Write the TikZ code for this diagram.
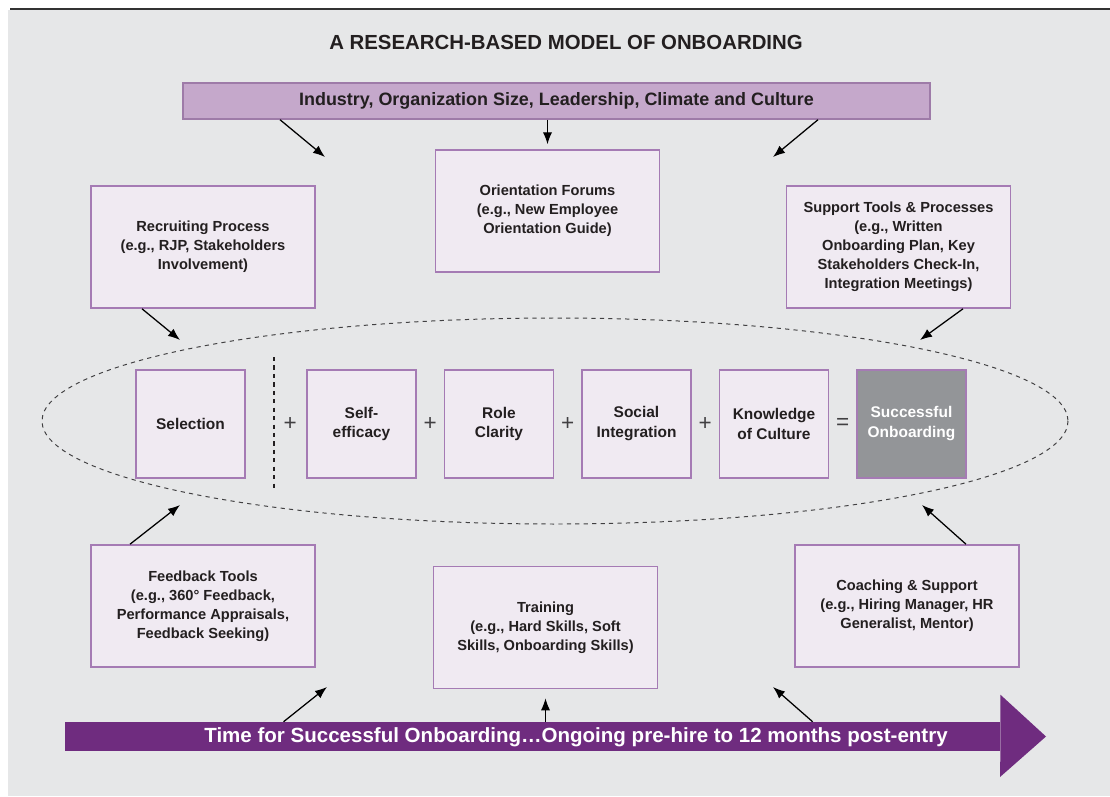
\documentclass[tikz,border=0pt]{standalone}
\usepackage{fontspec}
\setmainfont{Liberation Sans}
\usepackage{tikz}
\usetikzlibrary{positioning, arrows.meta, calc}
\definecolor{bggray}{HTML}{E6E7E8}
\definecolor{boxfill}{HTML}{F0EAF2}
\definecolor{boxedge}{HTML}{A57BB4}
\definecolor{barfill}{HTML}{C5A8CB}
\definecolor{baredge}{HTML}{9E7BA8}
\definecolor{tlpurple}{HTML}{6F2C7F}
\definecolor{sucgray}{HTML}{939598}
\definecolor{ink}{HTML}{231F20}
\definecolor{opgray}{HTML}{414042}
\tikzset{
  box/.style ={draw=boxedge, fill=boxfill, line width=1.1pt, minimum width=5.6cm,
               minimum height=3.05cm, align=center, text=ink,
               font=\bfseries\fontsize{10.4}{13.5}\selectfont},
  term/.style={box, minimum width=2.725cm, minimum height=2.7cm,
               font=\bfseries\fontsize{11}{14.2}\selectfont},
  op/.style  ={text=opgray, font=\fontsize{16}{16}\selectfont},
  line/.style={line width=0.9pt, -{Latex[length=3mm, width=2.3mm]}}
}

\begin{document}
\begin{tikzpicture}[x=0.025cm, y=-0.025cm]
  \useasboundingbox (0,0) rectangle (1110,796);
  \fill[white] (0,0) rectangle (1110,796);
  \fill[bggray] (8,10) rectangle (1110,796);
  \draw[line width=1.6pt, black!80] (10,9) -- (1110,9);

  \node[text=ink, font=\bfseries\fontsize{14.5}{16}\selectfont] (title) at (566,42)
    {A RESEARCH-BASED MODEL OF ONBOARDING};

  \node[draw=baredge, fill=barfill, line width=1pt, minimum width=18.675cm,
        minimum height=0.9cm, text=ink, font=\bfseries\fontsize{12.75}{14}\selectfont]
        (ctx) at (556.5,101) {Industry, Organization Size, Leadership, Climate and Culture};

  % context boxes
  \node[box] (rec) at (203,247)   {Recruiting Process\\(e.g., RJP, Stakeholders\\Involvement)};
  \node[box] (ori) at (547.5,211) {Orientation Forums\\(e.g., New Employee\\Orientation Guide)};
  \node[box] (sup) at (898.5,247) {Support Tools \& Processes\\(e.g., Written\\Onboarding Plan, Key\\Stakeholders Check-In,\\Integration Meetings)};
  \node[box] (fb)  at (203,606)   {Feedback Tools\\(e.g., 360° Feedback,\\Performance Appraisals,\\Feedback Seeking)};
  \node[box] (trn) at (545.5,627.5) {Training\\(e.g., Hard Skills, Soft\\Skills, Onboarding Skills)};
  \node[box] (coa) at (907,606)   {Coaching \& Support\\(e.g., Hiring Manager, HR\\Generalist, Mentor)};

  % the equation
  \draw[dashed, opgray, line width=0.7pt] (555,421) ellipse [x radius=513, y radius=103];
  \node[term] (sel) at (190.5,424) {Selection};
  \node[term] (eff) at (361.5,424) {Self-\\efficacy};
  \node[term] (rol) at (499,424)   {Role\\Clarity};
  \node[term] (soc) at (636.5,424) {Social\\Integration};
  \node[term] (kno) at (774,424)   {Knowledge\\of Culture};
  \node[term, fill=sucgray, text=white] (suc) at (911.5,424) {Successful\\Onboarding};
  \draw[dashed, ink, line width=1.2pt] (274,357) coordinate (sep) -- (274,488);
  \node[op] at ($(sep |- eff.west)!0.5!(eff.west)$) {+};
  \node[op] at ($(eff.east)!0.5!(rol.west)$) {+};
  \node[op] at ($(rol.east)!0.5!(soc.west)$) {+};
  \node[op] at ($(soc.east)!0.5!(kno.west)$) {+};
  \node[op] at ($(kno.east)!0.5!(suc.west)$) {=};

  % time line
  \node[fill=tlpurple, inner sep=0, minimum width=23.375cm, minimum height=0.725cm]
        (time) at (532.5,736.5) {};
  \fill[tlpurple] (time.north east) -- ++(0,-27) -- (1046,736.5) -- (1000,777)
        -- (time.south east) -- cycle;
  \node[text=white, font=\bfseries\fontsize{14.6}{16}\selectfont] (timetxt) at (576,737)
    {Time for Successful Onboarding…Ongoing pre-hire to 12 months post-entry};

  % arrow ends
  \coordinate (ctxL) at (325,157);
  \coordinate (ctxR) at (773,157);
  \coordinate (recE) at (180,340);
  \coordinate (supE) at (920,340);
  \coordinate (fbE)  at (180,505);
  \coordinate (coaE) at (922,505);
  \coordinate (tlL)  at (327,687);
  \coordinate (tlR)  at (773,687);

  \draw[line] ($(ctx.south)+(-276.5,0)$) -- (ctxL);
  \draw[line, shorten >=3.5pt] (ctx.south -| ori.north) -- (ori.north);
  \draw[line] ($(ctx.south)+(261.5,0)$) -- (ctxR);
  \draw[line] ($(rec.south)+(-61,0)$) -- (recE);
  \draw[line] ($(sup.south)+(64.5,0)$) -- (supE);
  \draw[line] ($(fb.north)+(-73,0)$) -- (fbE);
  \draw[line] ($(coa.north)+(59,0)$) -- (coaE);
  \draw[line] ($(time.north west)+(219,0)$) -- (tlL);
  \draw[line, shorten >=6.4pt] (time.north -| trn.south) -- (trn.south);
  \draw[line] ($(time.north west)+(748,0)$) -- (tlR);
\end{tikzpicture}
\end{document}
